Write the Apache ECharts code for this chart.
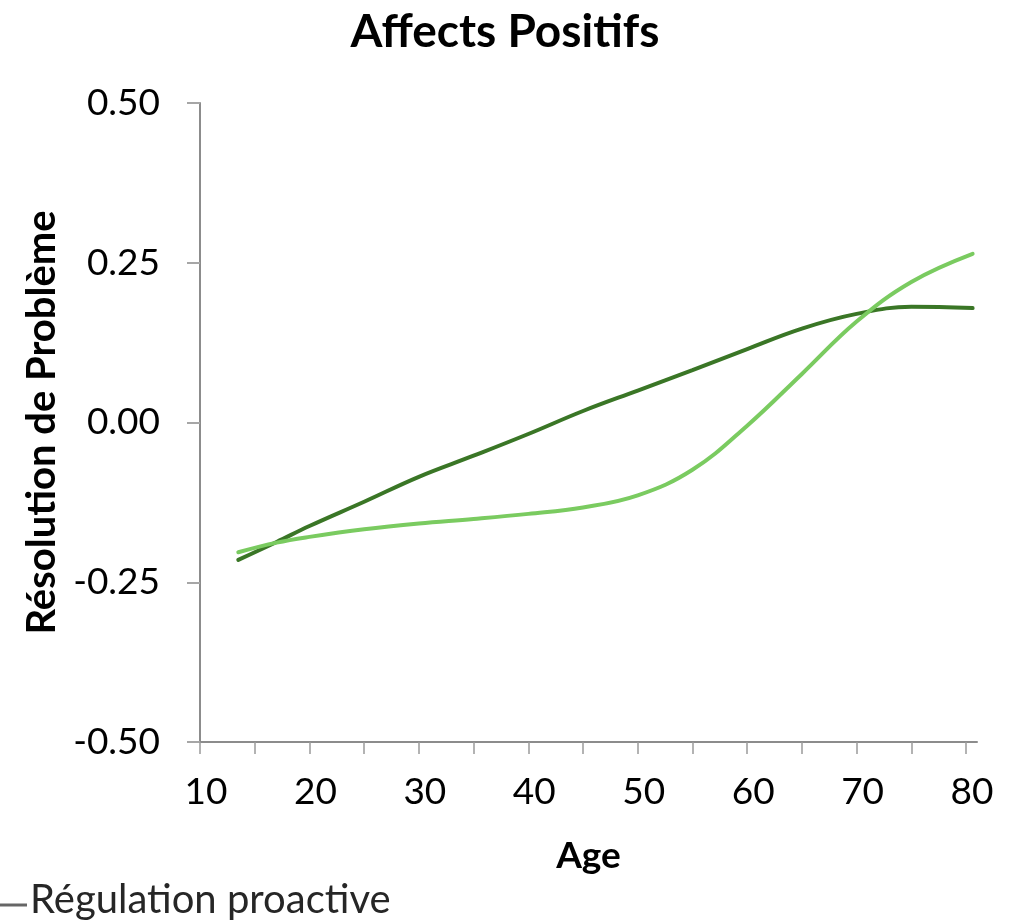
<!DOCTYPE html>
<html>
<head>
<meta charset="utf-8">
<title>Affects Positifs</title>
<script src="https://cdn.jsdelivr.net/npm/echarts@6/dist/echarts.min.js"></script>
<style>
  html, body { margin: 0; padding: 0; background: #fff; }
  #chart { width: 1023px; height: 923px; }
</style>
</head>
<body>
<div id="chart"></div>
<script>
// ages (x) shared by both curves
const ages = [13.5, 17, 20, 25, 30, 35, 40, 45, 50, 55, 60, 65, 70, 75, 80.6];
// dark green curve
const darkValues = [-0.215, -0.187, -0.162, -0.124, -0.085, -0.052, -0.018, 0.018, 0.050, 0.082, 0.115, 0.147, 0.170, 0.181, 0.179];
// light green curve
const lightValues = [-0.203, -0.188, -0.179, -0.167, -0.158, -0.151, -0.143, -0.133, -0.114, -0.074, -0.005, 0.076, 0.158, 0.220, 0.264];

const xTicks = [10, 15, 20, 25, 30, 35, 40, 45, 50, 55, 60, 65, 70, 75, 80];
const xLabels = [10, 20, 30, 40, 50, 60, 70, 80];

const legendText = 'Régulation proactive';

const font = 'Lato, "Open Sans", sans-serif';

const toPairs = (xs, ys) => xs.map((x, i) => [x, ys[i]]);

const chart = echarts.init(document.getElementById('chart'));

chart.setOption({
  animation: false,
  backgroundColor: '#ffffff',
  title: {
    text: 'Affects Positifs',
    left: 500,
    top: 4,
    textAlign: 'center',
    textStyle: { fontFamily: font, fontSize: 46, fontWeight: 'bold', color: '#000' }
  },
  grid: { left: 200, top: 103, right: 46, bottom: 181, containLabel: false },
  xAxis: {
    type: 'value',
    min: 10,
    max: 81,
    name: 'Age',
    nameLocation: 'middle',
    nameGap: 96,
    nameTextStyle: { fontFamily: font, fontSize: 37, fontWeight: 'bold', color: '#000' },
    axisLine: { show: true, onZero: false, lineStyle: { color: '#8c8c8c', width: 2 } },
    axisTick: {
      show: true,
      customValues: xTicks,
      length: 12,
      lineStyle: { color: '#9a9a9a', width: 1.5 }
    },
    axisLabel: {
      customValues: xLabels,
      margin: 32,
      padding: [0, 0, 0, 12],
      fontFamily: font,
      fontSize: 37,
      color: '#000'
    },
    splitLine: { show: false }
  },
  yAxis: {
    type: 'value',
    min: -0.5,
    max: 0.5,
    interval: 0.25,
    name: 'Résolution de Problème',
    nameLocation: 'middle',
    nameGap: 138,
    nameTextStyle: { fontFamily: font, fontSize: 40, fontWeight: 'bold', color: '#000' },
    axisLine: { show: true, lineStyle: { color: '#8c8c8c', width: 2 } },
    axisTick: { show: true, length: 13, lineStyle: { color: '#a6a6a6', width: 2 } },
    axisLabel: {
      margin: 40,
      fontFamily: font,
      fontSize: 37,
      color: '#000',
      formatter: v => v.toFixed(2)
    },
    splitLine: { show: false }
  },
  series: [
    {
      name: 'dark',
      type: 'line',
      smooth: 0.4,
      showSymbol: false,
      data: toPairs(ages, darkValues),
      lineStyle: { color: '#3a7626', width: 4, cap: 'round' },
      z: 2
    },
    {
      name: 'light',
      type: 'line',
      smooth: 0.4,
      showSymbol: false,
      data: toPairs(ages, lightValues),
      lineStyle: { color: '#7acb60', width: 4, cap: 'round' },
      z: 3
    }
  ],
  graphic: [
    {
      type: 'line',
      shape: { x1: 0, y1: 905, x2: 27, y2: 905 },
      style: { stroke: '#666666', lineWidth: 3 }
    },
    {
      type: 'text',
      left: 30,
      top: 880,
      style: { text: legendText, fontFamily: font, fontSize: 40, fill: '#262626' }
    }
  ]
});
</script>
</body>
</html>
